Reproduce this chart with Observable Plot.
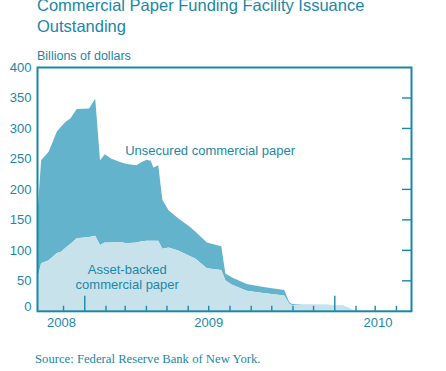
<!DOCTYPE html>
<html>
<head>
<meta charset="utf-8">
<script src="https://cdn.jsdelivr.net/npm/d3@7"></script>
<script src="https://cdn.jsdelivr.net/npm/@observablehq/plot@0.6"></script>
<style>
  html, body { margin: 0; padding: 0; background: #fff; }
  #wrap { position: relative; width: 446px; height: 371px; overflow: hidden; }
  .t { position: absolute; color: #1b87a8; white-space: nowrap; }
  #title { left: 37px; top: -5px; font: 16.5px/20.5px "Liberation Sans", Arial, sans-serif; }
  #units { left: 37px; top: 50.4px; font: 12.5px/12.5px "Liberation Sans", Arial, sans-serif; }
  #source { left: 35px; top: 353.4px; font: 12.7px/12.7px "Liberation Serif", "Times New Roman", serif; }
  #chart { position: absolute; left: 0; top: 0; }
</style>
</head>
<body>
<div id="wrap">
  <div id="chart"></div>
  <div class="t" id="title">Commercial Paper Funding Facility Issuance<br>Outstanding</div>
  <div class="t" id="units">Billions of dollars</div>
  <div class="t" id="source">Source: Federal Reserve Bank of New York.</div>
</div>
<script>
// Dates of readings (vertices)
const dates = [
  "2008-10-24","2008-10-30","2008-11-10","2008-11-22","2008-11-28","2008-12-05","2008-12-12","2008-12-21",
  "2009-01-08","2009-01-17","2009-01-24","2009-01-31","2009-02-09","2009-02-22","2009-03-04","2009-03-18",
  "2009-03-26","2009-04-02","2009-04-08","2009-04-12","2009-04-19","2009-04-25","2009-05-04","2009-05-18",
  "2009-06-04","2009-06-12","2009-06-29","2009-07-20","2009-07-26","2009-08-04","2009-08-26","2009-09-22",
  "2009-10-20","2009-10-27","2009-10-31","2009-11-16","2009-12-21","2010-01-14","2010-01-24","2010-01-29",
  "2010-02-08"
];
// Total outstanding (top of the darker band), billions of dollars
const totalOutstanding = [
  148, 247, 261, 294, 302, 310, 316, 331,
  332, 348, 247, 257, 250, 244, 241, 239,
  244, 248, 246, 235, 239, 182, 165, 152,
  138, 130, 112, 106, 61, 55, 44, 38.5,
  34, 15, 11, 10.5, 9.8, 8.7, 4, 1,
  0
];
// Asset-backed commercial paper (lower, lighter band)
const assetBacked = [
  50, 78, 83, 95, 97, 104, 110, 119,
  121, 123, 108, 112, 112, 113, 111, 112,
  114, 115, 115, 115, 115, 102, 104, 99,
  90, 86, 70, 67, 50, 43, 33, 29,
  25, 12, 9.5, 9.8, 9.5, 8.4, 4, 1,
  0
];

const yTicks = [50, 100, 150, 200, 250, 300, 350, 400];
const rightTicks = [50, 100, 150, 200, 250, 300, 350];
const monthTicks = ["2008-12-01","2009-02-01","2009-03-01","2009-04-01","2009-05-01","2009-06-01",
  "2009-07-01","2009-08-01","2009-09-01","2009-10-01","2009-11-01","2009-12-01","2010-02-01","2010-03-01","2010-04-01"];
const yearTicks = ["2009-01-01","2010-01-01"];
const yearLabels = ["2008","2009","2010"];
const yearLabelDates = ["2008-11-28","2009-07-01","2010-03-05"];
const xDomain = ["2008-10-24","2010-04-23"];
const seriesLabels = [
  {text: "Unsecured commercial paper", date: "2009-07-03", value: 264},
  {text: "Asset-backed\ncommercial paper", date: "2009-03-04", value: 56}
];

const parse = d3.utcParse("%Y-%m-%d");
const data = dates.map((d, i) => ({date: parse(d), total: totalOutstanding[i], abcp: assetBacked[i]}));
const labels = seriesLabels.map(d => ({...d, date: parse(d.date)}));

const teal = "#1b87a8";
const dark = "#62b3cb";
const light = "#c8e2eb";

const W = 446, H = 371, mL = 37, mR = 35, mT = 67, mB = 60.2;
const innerW = W - mL - mR, innerH = H - mT - mB;

const chart = Plot.plot({
  width: W,
  height: H,
  marginLeft: mL,
  marginRight: mR,
  marginTop: mT,
  marginBottom: mB,
  style: {fontFamily: "'Liberation Sans', Arial, sans-serif", fontSize: "13px", color: teal, background: "transparent", overflow: "visible"},
  x: {type: "utc", domain: xDomain.map(parse)},
  y: {domain: [0, 400]},
  marks: [
    Plot.areaY(data, {x: "date", y1: "abcp", y2: "total", fill: dark, curve: "linear"}),
    Plot.areaY(data, {x: "date", y1: 0, y2: "abcp", fill: light, curve: "linear"}),
    Plot.text(labels, {x: "date", y: "value", text: "text", fill: teal, fontSize: 13, lineHeight: 1.15, lineAnchor: "middle"}),
    Plot.axisY(yTicks, {anchor: "left", tickSize: 0, tickPadding: 6, fontSize: 13, fill: teal, label: null}),
    Plot.axisY([0], {anchor: "left", tickSize: 0, tickPadding: 6, fontSize: 13, fill: teal, dy: -4, label: null}),
    Plot.tickY(rightTicks, {y: d => d, stroke: teal, strokeWidth: 1.4, insetLeft: innerW - 9}),
    Plot.tickX(monthTicks.map(parse), {x: d => d, stroke: teal, strokeWidth: 1.4, insetTop: innerH - 5}),
    Plot.tickX(yearTicks.map(parse), {x: d => d, stroke: teal, strokeWidth: 1.4, insetTop: innerH - 15}),
    Plot.axisX(yearLabelDates.map(parse), {anchor: "bottom", tickSize: 0, tickPadding: 6.5, fontSize: 13, fill: teal, tickFormat: (d, i) => yearLabels[i], label: null}),
    Plot.frame({stroke: teal, strokeWidth: 2})
  ]
});
document.getElementById("chart").appendChild(chart);
</script>
</body>
</html>
